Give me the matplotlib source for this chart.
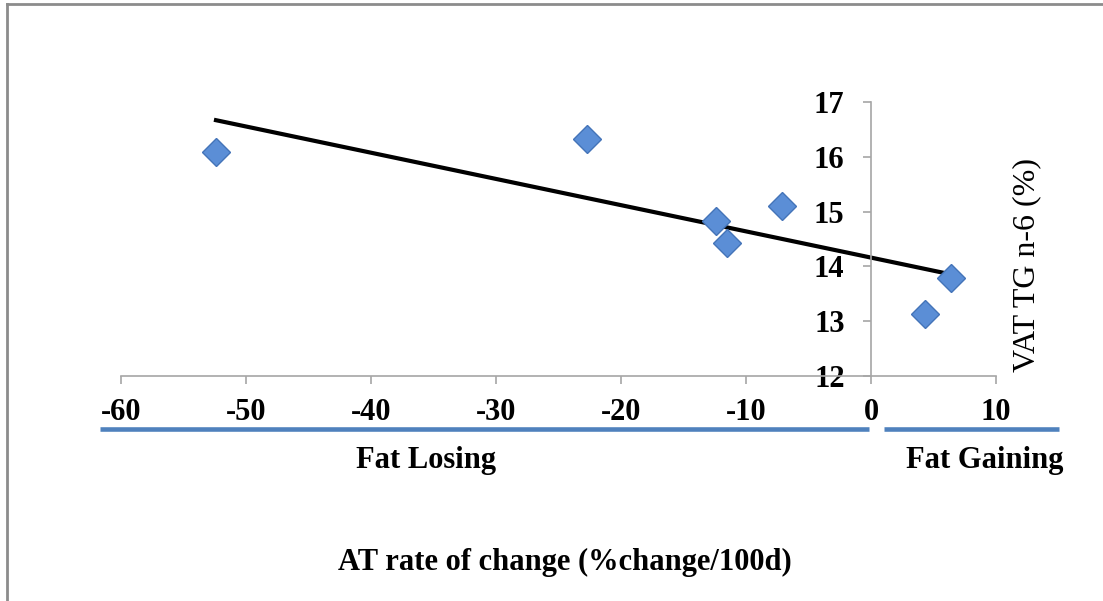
import numpy as np
import matplotlib.pyplot as plt
from matplotlib.lines import Line2D

plt.rcParams['axes.unicode_minus'] = False

# AT rate of change vs VAT TG n-6
at_change = [-52.4, -22.7, -12.4, -11.5, -7.1, 4.3, 6.4]
vat_n6 = [16.09, 16.32, 14.83, 14.43, 15.10, 13.13, 13.79]

x_ticks = [-60, -50, -40, -30, -20, -10, 0, 10]
y_ticks = [12, 13, 14, 15, 16, 17]

serif = 'Liberation Serif'
fs = 22

fig = plt.figure(figsize=(11.03, 6.01), dpi=100)
ax = fig.add_axes([121 / 1103, (601 - 376) / 601, 875 / 1103, 274 / 601])

ax.plot(at_change, vat_n6, linestyle='none', marker='D', markersize=14.5,
        markerfacecolor='#5b8ed6', markeredgecolor='#4474b8', markeredgewidth=1, zorder=3)

# linear trendline
k, b = np.polyfit(at_change, vat_n6, 1)
xs = np.array([min(at_change), max(at_change)])
ax.plot(xs, k * xs + b, color='black', lw=3, zorder=2)

ax.set_xlim(-60, 10)
ax.set_ylim(12, 17)
ax.set_xticks(x_ticks)
ax.set_yticks(y_ticks)

for s in ['top', 'right']:
    ax.spines[s].set_visible(False)
ax.spines['left'].set_position(('data', 0))
for s in ['left', 'bottom']:
    ax.spines[s].set_color('#a6a6a6')
    ax.spines[s].set_linewidth(1.2)

ax.tick_params(axis='x', direction='out', length=6, width=1.2, color='#a6a6a6', pad=10)
ax.tick_params(axis='y', direction='out', length=6, width=1.2, color='#a6a6a6', pad=13)
for lab in ax.get_xticklabels() + ax.get_yticklabels():
    lab.set_fontfamily(serif)
    lab.set_fontweight('bold')
    lab.set_fontsize(fs)

ax.set_ylabel('VAT TG n-6 (%)', fontfamily=serif, fontsize=23)
ax.yaxis.set_label_coords((1041 - 121) / 875, 0.405)

# fat losing / gaining bars under the axis
tr = ax.get_xaxis_transform()
ax.plot([-61.7, -0.2], [-0.193, -0.193], transform=tr, color='#4f81bd', lw=3.3,
        solid_capstyle='butt', clip_on=False)
ax.plot([1.0, 15.0], [-0.193, -0.193], transform=tr, color='#4f81bd', lw=3.3,
        solid_capstyle='butt', clip_on=False)
ax.text(-35.6, -0.31, 'Fat Losing', transform=tr, ha='center', va='center',
        fontfamily=serif, fontweight='bold', fontsize=fs)
ax.text(9.1, -0.31, 'Fat Gaining', transform=tr, ha='center', va='center',
        fontfamily=serif, fontweight='bold', fontsize=fs)

fig.text(565 / 1103, 1 - 562 / 601, 'AT rate of change (%change/100d)', ha='center', va='center',
         fontfamily=serif, fontweight='bold', fontsize=fs)

# chart frame (left and top edges)
fig.add_artist(Line2D([7 / 1103, 7 / 1103], [0, 1 - 4 / 601], color='#8c8c8c', lw=2))
fig.add_artist(Line2D([7 / 1103, 1], [1 - 4 / 601, 1 - 4 / 601], color='#8c8c8c', lw=2))

fig.savefig('out.png', dpi=100)
